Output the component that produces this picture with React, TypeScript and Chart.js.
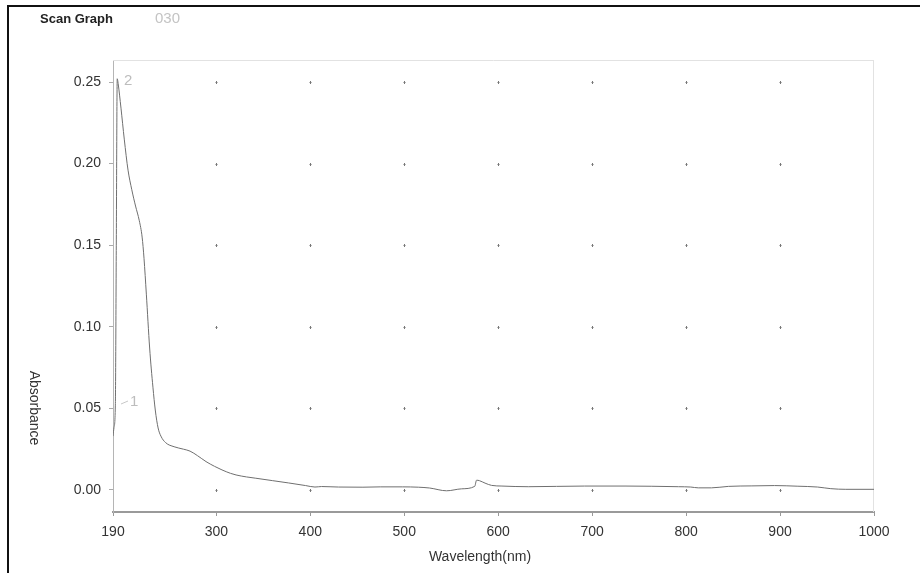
import React, { useEffect, useRef } from "react";
import { Chart, registerables } from "chart.js";

Chart.register(...registerables);

const wavelengths = [
  190, 191, 192.5, 193.5, 194.5, 195.5, 198.5, 202, 206, 210, 214, 218, 221, 223, 225.5, 229, 232.5, 235, 238, 241, 246,
  255, 265, 272, 280, 289, 298, 306, 315, 321, 332, 342, 360, 377, 395, 405, 412, 430, 456, 475, 498, 515, 527, 545,
  561, 575, 577, 580, 586, 593, 604, 632, 692, 735, 792, 805, 813, 827, 845, 870, 894, 919, 940, 954, 970, 1000,
];
const absorbance = [
  0.033, 0.038, 0.052, 0.15, 0.252, 0.249, 0.234, 0.215, 0.196, 0.184, 0.174, 0.165, 0.155, 0.142, 0.12, 0.087, 0.063,
  0.049, 0.038, 0.033, 0.029, 0.0265, 0.025, 0.0238, 0.021, 0.0174, 0.0145, 0.0123, 0.0102, 0.0092, 0.008, 0.0072,
  0.0057, 0.0043, 0.0027, 0.0018, 0.0021, 0.0018, 0.0017, 0.0019, 0.0019, 0.0017, 0.0012, -0.0005, 0.0007, 0.0022,
  0.006, 0.0057, 0.0042, 0.0028, 0.0024, 0.002, 0.0024, 0.0024, 0.002, 0.0018, 0.0013, 0.0013, 0.0022, 0.0025, 0.0027,
  0.0023, 0.0018, 0.0008, 0.0004, 0.0004,
];
const xTickValues = [190, 300, 400, 500, 600, 700, 800, 900, 1000];
const yTickValues = [0, 0.05, 0.1, 0.15, 0.2, 0.25];
const dotXValues = [300, 400, 500, 600, 700, 800, 900];
const dotYValues = [0, 0.05, 0.1, 0.15, 0.2, 0.25];

const FONT = "'Liberation Sans', Arial, sans-serif";

const decorPlugin = {
  id: "decor",
  beforeDatasetsDraw(chart: any) {
    const { ctx, chartArea, scales } = chart;
    const xs = scales.x;
    const ys = scales.y;
    ctx.save();
    ctx.strokeStyle = "#e2e2e2";
    ctx.lineWidth = 1;
    ctx.beginPath();
    ctx.moveTo(chartArea.left, chartArea.top + 0.5);
    ctx.lineTo(chartArea.right, chartArea.top + 0.5);
    ctx.moveTo(chartArea.right - 0.5, chartArea.top);
    ctx.lineTo(chartArea.right - 0.5, chartArea.bottom);
    ctx.stroke();
    ctx.strokeStyle = "#777";
    for (const xv of dotXValues) {
      for (const yv of dotYValues) {
        const px = Math.round(xs.getPixelForValue(xv)) + 0.5;
        const py = Math.round(ys.getPixelForValue(yv)) + 0.5;
        ctx.beginPath();
        ctx.moveTo(px - 1, py);
        ctx.lineTo(px + 1, py);
        ctx.moveTo(px, py - 1.5);
        ctx.lineTo(px, py + 1.5);
        ctx.stroke();
      }
    }
    ctx.restore();
  },
  afterDraw(chart: any) {
    const { ctx } = chart;
    ctx.save();
    ctx.fillStyle = "#111";
    ctx.fillRect(7, 5, 2, 568);
    ctx.fillRect(7, 5, 913, 2);
    ctx.fillStyle = "#222";
    ctx.font = `bold 13px ${FONT}`;
    ctx.textBaseline = "middle";
    ctx.textAlign = "left";
    ctx.fillText("Scan Graph", 40, 19);
    ctx.fillStyle = "#c4c4c4";
    ctx.font = `15px ${FONT}`;
    ctx.fillText("030", 155, 19);
    ctx.fillStyle = "#bdbdbd";
    ctx.fillText("2", 124, 81);
    ctx.fillText("1", 130, 402);
    ctx.strokeStyle = "#c8c8c8";
    ctx.beginPath();
    ctx.moveTo(121, 404);
    ctx.lineTo(128, 401);
    ctx.stroke();
    ctx.fillStyle = "#333";
    ctx.font = `14px ${FONT}`;
    ctx.textAlign = "center";
    ctx.fillText("Wavelength(nm)", 480, 557);
    ctx.translate(34, 408);
    ctx.rotate(Math.PI / 2);
    ctx.fillText("Absorbance", 0, 0);
    ctx.restore();
  },
};

export default function App() {
  const canvasRef = useRef<HTMLCanvasElement | null>(null);

  useEffect(() => {
    document.body.style.margin = "0";
    document.body.style.background = "#fff";
    const canvas = canvasRef.current;
    if (!canvas) return;
    const points = wavelengths.map((w, i) => ({ x: w, y: absorbance[i] }));
    const chart = new Chart(canvas, {
      type: "line",
      data: {
        datasets: [
          {
            data: points,
            borderColor: "#6f6f6f",
            borderWidth: 1,
            pointRadius: 0,
            cubicInterpolationMode: "monotone",
            fill: false,
          },
        ],
      },
      options: {
        animation: false,
        responsive: false,
        maintainAspectRatio: false,
        layout: { padding: { left: 0, right: 46, top: 60, bottom: 0 } },
        plugins: { legend: { display: false }, tooltip: { enabled: false }, title: { display: false } },
        scales: {
          x: {
            type: "linear",
            min: 190,
            max: 1000,
            afterBuildTicks: (scale: any) => {
              scale.ticks = xTickValues.map((v) => ({ value: v }));
            },
            afterFit: (scale: any) => {
              scale.height = 61;
            },
            grid: { drawOnChartArea: false, drawTicks: true, tickLength: 4, color: "#999" },
            border: { display: true, color: "#9a9a9a", width: 2 },
            ticks: {
              padding: 8,
              color: "#333",
              font: { family: FONT, size: 14 },
              maxRotation: 0,
              autoSkip: false,
              callback: (v: any) => String(v),
            },
          },
          y: {
            type: "linear",
            min: -0.0135,
            max: 0.2635,
            afterBuildTicks: (scale: any) => {
              scale.ticks = yTickValues.map((v) => ({ value: v }));
            },
            afterFit: (scale: any) => {
              scale.width = 113;
            },
            grid: { drawOnChartArea: false, drawTicks: true, tickLength: 4, color: "#aaa" },
            border: { display: true, color: "#b5b5b5", width: 1 },
            ticks: {
              padding: 8,
              color: "#333",
              font: { family: FONT, size: 14 },
              autoSkip: false,
              callback: (v: any) => Number(v).toFixed(2),
            },
          },
        },
      },
      plugins: [decorPlugin],
    } as any);
    return () => chart.destroy();
  }, []);

  return (
    <div style={{ position: "fixed", left: 0, top: 0, width: 920, height: 573, background: "#fff" }}>
      <canvas ref={canvasRef} width={920} height={573} style={{ width: 920, height: 573, display: "block" }} />
    </div>
  );
}
